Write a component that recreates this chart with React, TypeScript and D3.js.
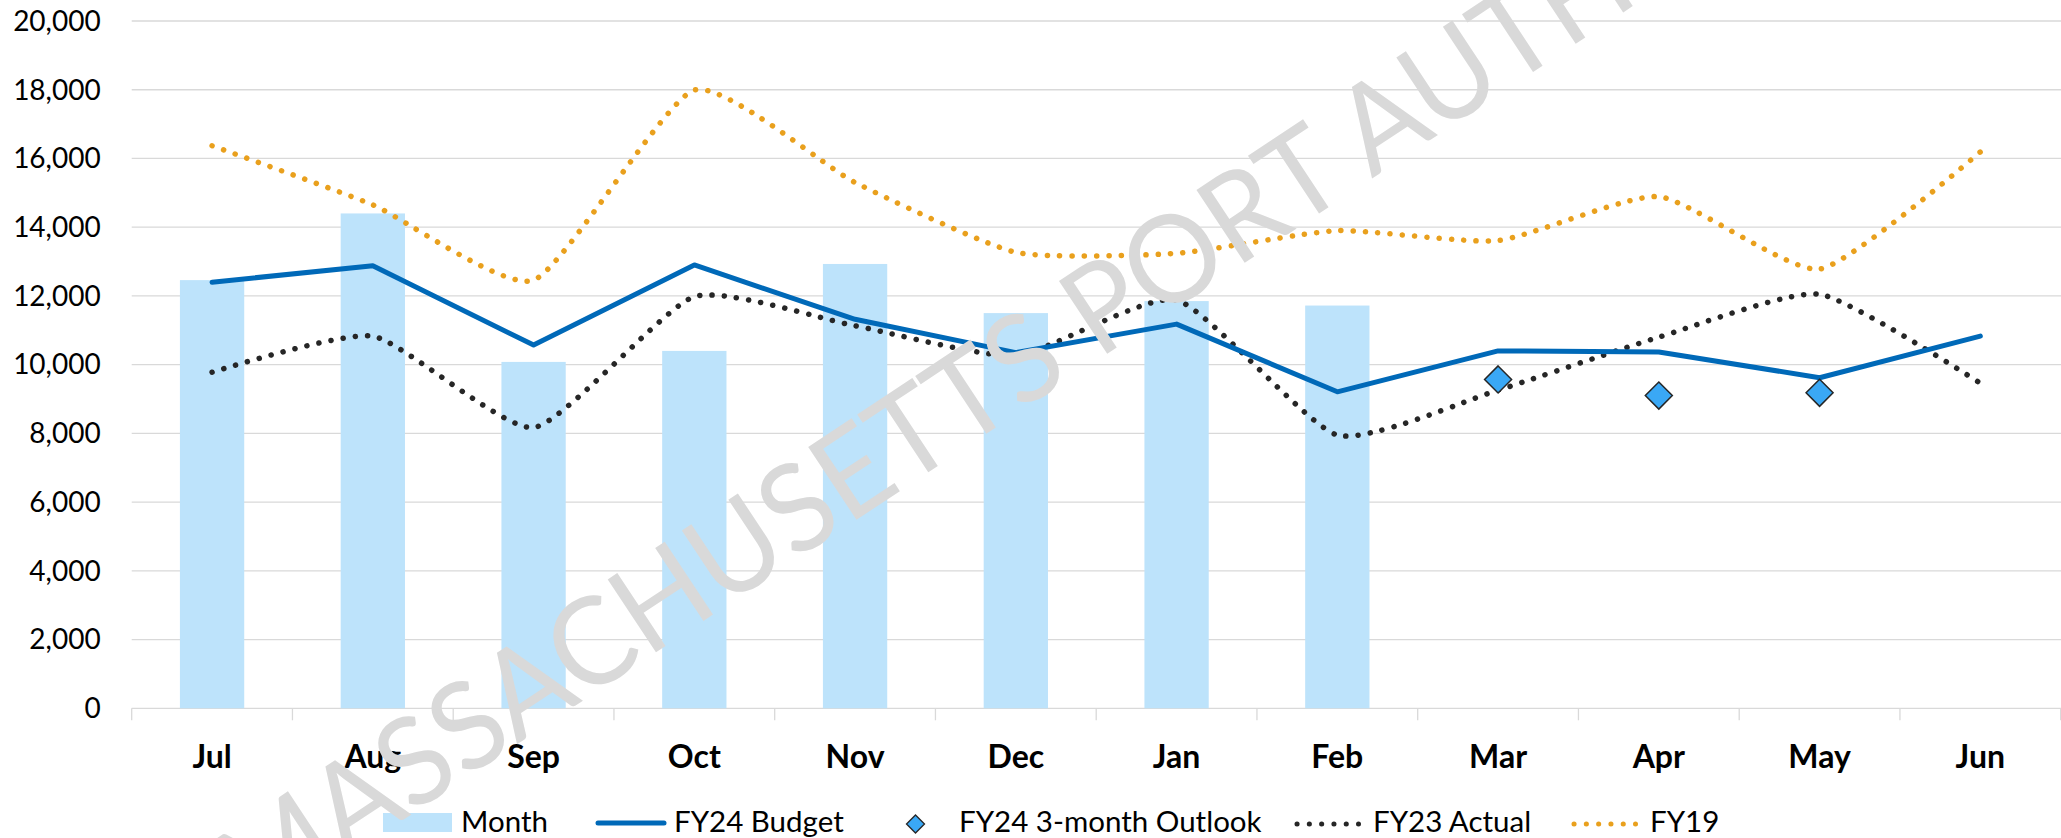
import React from "react";
import * as d3 from "d3";

const months = ["Jul", "Aug", "Sep", "Oct", "Nov", "Dec", "Jan", "Feb", "Mar", "Apr", "May", "Jun"];
const monthActual: (number | null)[] = [12460, 14400, 10080, 10400, 12930, 11500, 11850, 11720, null, null, null, null];
const fy24Budget = [12400, 12880, 10570, 12900, 11320, 10350, 11180, 9210, 10400, 10370, 9620, 10830];
const fy24Outlook: (number | null)[] = [null, null, null, null, null, null, null, null, 9570, 9100, 9180, null];
const fy23Actual = [9780, 10830, 8170, 11980, 11130, 10260, 11880, 7950, 9260, 10800, 12050, 9460];
const fy19 = [16370, 14650, 12460, 17990, 15300, 13270, 13240, 13900, 13610, 14890, 12780, 16190];
const yTicks = [0, 2000, 4000, 6000, 8000, 10000, 12000, 14000, 16000, 18000, 20000];

const legendItems = [
  { key: "bar", label: "Month", x: 383 },
  { key: "budget", label: "FY24 Budget", x: 596 },
  { key: "outlook", label: "FY24 3-month Outlook", x: 881 },
  { key: "fy23", label: "FY23 Actual", x: 1297 },
  { key: "fy19", label: "FY19", x: 1574 },
];

const W = 2061;
const H = 838;
const X0 = 131.7;
const X1 = 2060.7;
const Y_TOP = 21;
const Y_BOT = 708.3;

const C_BAR = "#BDE3FB";
const C_BUDGET = "#0069B8";
const C_OUT = "#3AA8F5";
const C_FY23 = "#262626";
const C_FY19 = "#E9A01D";
const C_GRID = "#D9D9D9";
const FONT = "Lato, 'Open Sans', sans-serif";

export default function App() {
  const x = d3.scalePoint<string>().domain(months).range([X0, X1]).padding(0.5);
  const step = x.step();
  const barW = step * 0.4;
  const y = d3.scaleLinear().domain([0, 20000]).range([Y_BOT, Y_TOP]);

  const straight = d3
    .line<number>()
    .x((_, i) => x(months[i]) as number)
    .y((d) => y(d));
  const smooth = d3
    .line<number>()
    .x((_, i) => x(months[i]) as number)
    .y((d) => y(d))
    .curve(d3.curveCardinal.tension(0.45));

  const bounds = d3.range(months.length + 1).map((i) => X0 + i * step);
  const dot = "0.1 12.2";

  const diamond = (cx: number, cy: number, r: number) =>
    `M${cx},${cy - r}L${cx + r},${cy}L${cx},${cy + r}L${cx - r},${cy}Z`;

  return (
    <svg
      width={W}
      height={H}
      style={{ position: "absolute", left: 0, top: 0, background: "#fff" }}
      fontFamily={FONT}
    >
      <rect x={0} y={0} width={W} height={H} fill="#fff" />
      {/* gridlines */}
      {yTicks.map((t) => (
        <line key={t} x1={X0} x2={W} y1={y(t)} y2={y(t)} stroke={C_GRID} strokeWidth={1.3} />
      ))}
      {/* tick marks */}
      {bounds.map((b, i) => (
        <line key={i} x1={b} x2={b} y1={Y_BOT} y2={Y_BOT + 12} stroke={C_GRID} strokeWidth={1.3} />
      ))}
      {/* y labels */}
      {yTicks.map((t) => (
        <text key={t} x={100.7} y={y(t)} dy="0.35em" textAnchor="end" fontSize={28} fill="#000">
          {d3.format(",")(t)}
        </text>
      ))}
      {/* x labels */}
      {months.map((m) => (
        <text key={m} x={x(m)} y={768} textAnchor="middle" fontSize={32} fontWeight="bold" fill="#000">
          {m}
        </text>
      ))}
      {/* bars */}
      {monthActual.map((v, i) =>
        v == null ? null : (
          <rect
            key={i}
            x={(x(months[i]) as number) - barW / 2}
            y={y(v)}
            width={barW}
            height={y(0) - y(v)}
            fill={C_BAR}
          />
        )
      )}
      {/* lines */}
      <path d={smooth(fy19) || ""} fill="none" stroke={C_FY19} strokeWidth={5.5} strokeDasharray={dot} strokeLinecap="round" />
      <path d={smooth(fy23Actual) || ""} fill="none" stroke={C_FY23} strokeWidth={5.5} strokeDasharray={dot} strokeLinecap="round" />
      <path d={straight(fy24Budget) || ""} fill="none" stroke={C_BUDGET} strokeWidth={5} strokeLinejoin="round" strokeLinecap="round" />
      {fy24Outlook.map((v, i) =>
        v == null ? null : (
          <path key={i} d={diamond(x(months[i]) as number, y(v), 13.5)} fill={C_OUT} stroke={C_FY23} strokeWidth={1.5} />
        )
      )}
      {/* legend */}
      {legendItems.map((it) => {
        const cy = 823;
        let sym: React.ReactNode = null;
        if (it.key === "bar") sym = <rect x={it.x} y={813} width={69} height={19} fill={C_BAR} />;
        if (it.key === "budget")
          sym = <line x1={it.x + 2} x2={it.x + 68} y1={cy} y2={cy} stroke={C_BUDGET} strokeWidth={5} strokeLinecap="round" />;
        if (it.key === "outlook")
          sym = <path d={diamond(it.x + 34.5, cy + 1, 9)} fill={C_OUT} stroke={C_FY23} strokeWidth={1.3} />;
        if (it.key === "fy23")
          sym = <line x1={it.x} x2={it.x + 61.5} y1={cy + 1} y2={cy + 1} stroke={C_FY23} strokeWidth={5} strokeDasharray={dot} strokeLinecap="round" />;
        if (it.key === "fy19")
          sym = <line x1={it.x} x2={it.x + 61.5} y1={cy + 1} y2={cy + 1} stroke={C_FY19} strokeWidth={5} strokeDasharray={dot} strokeLinecap="round" />;
        const tx = it.key === "fy23" || it.key === "fy19" ? it.x + 76 : it.x + 78;
        return (
          <g key={it.key}>
            {sym}
            <text x={tx} y={832} fontSize={29.5} fill="#000">
              {it.label}
            </text>
          </g>
        );
      })}
      {/* watermark */}
      <text
        x={0}
        y={0}
        transform="translate(254,918.5) rotate(-33.5)"
        fontSize={122}
        fill="#D9D9D9"
        textLength={2008}
        lengthAdjust="spacingAndGlyphs"
      >
        MASSACHUSETTS PORT AUTHORITY
      </text>
    </svg>
  );
}
